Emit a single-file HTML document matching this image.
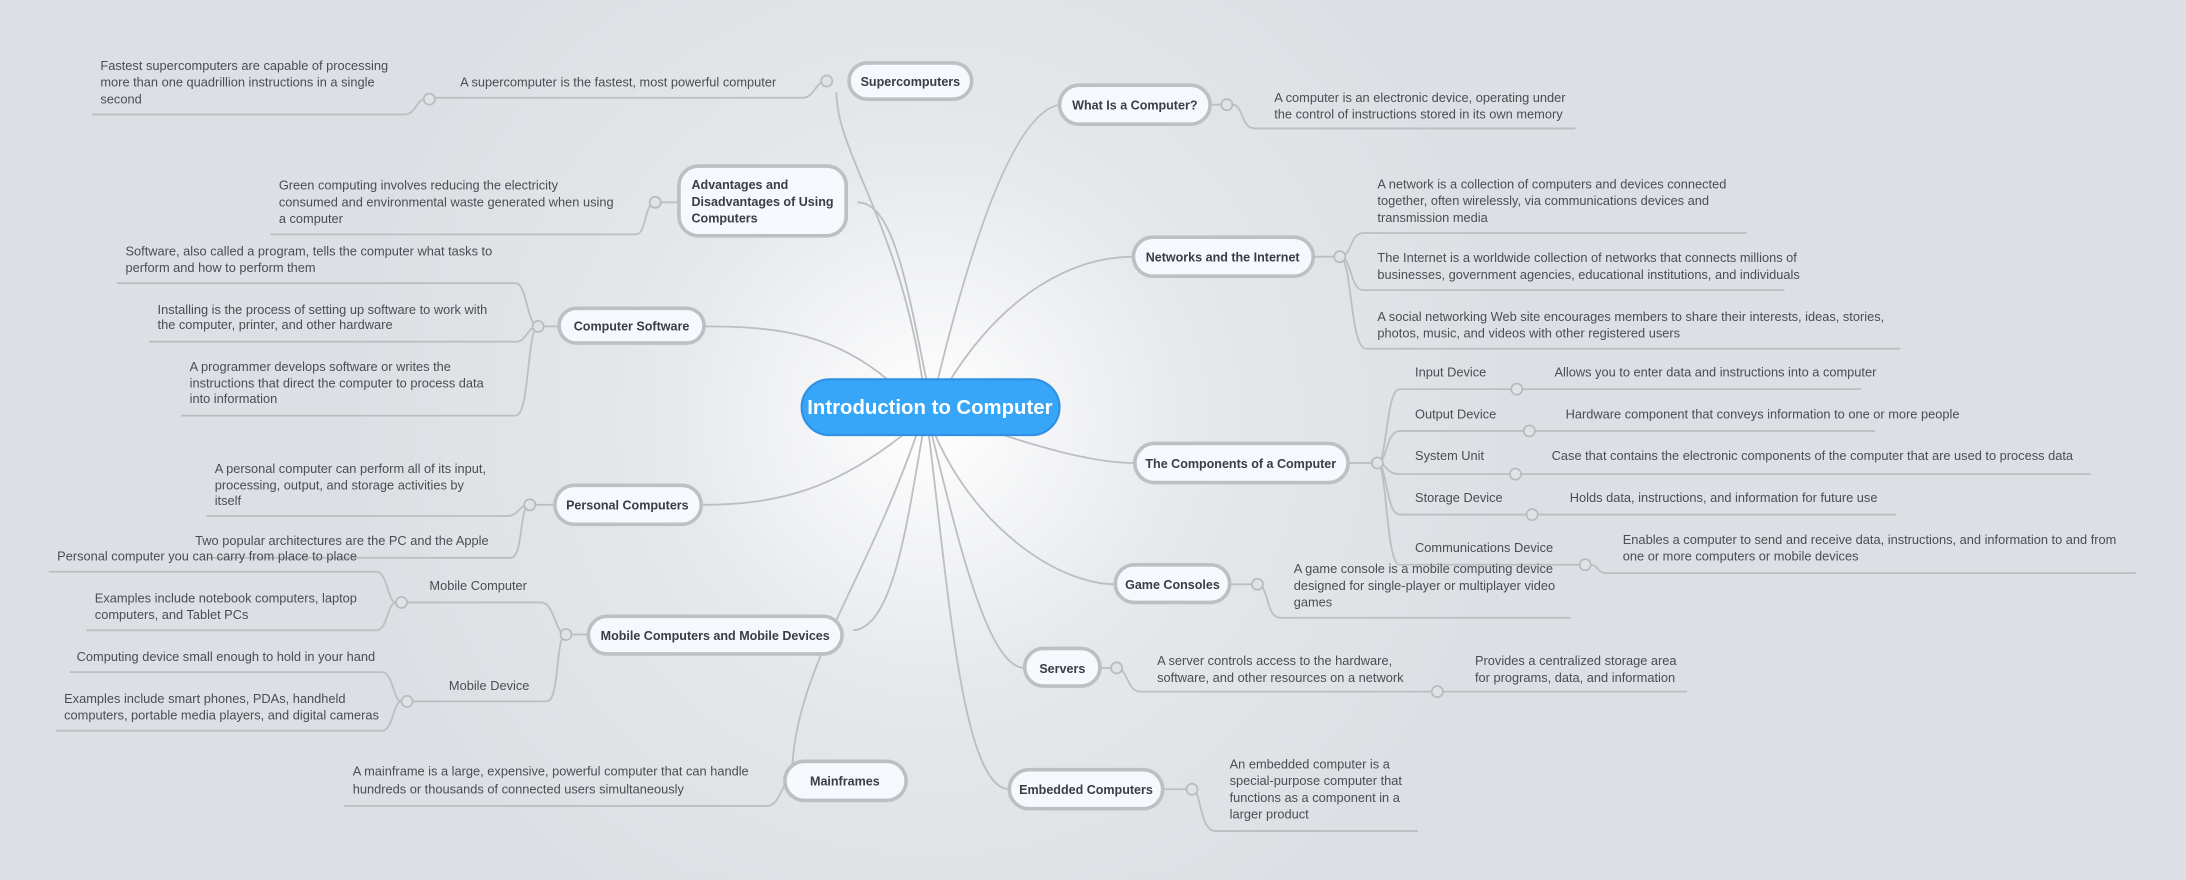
<!DOCTYPE html>
<html><head><meta charset="utf-8"><style>
html,body{margin:0;padding:0;background:#dcdfe3;}
svg{display:block}
text{font-family:"Liberation Sans",sans-serif;}
.d{font-size:9.2px;fill:#4a4d52;}
.n{font-size:9px;font-weight:bold;fill:#3a3d42;}
.l{fill:none;stroke:#bcbec2;stroke-width:1.3;}
.b{fill:#f5f8fd;stroke:#bdbfc2;stroke-width:2.6;}
.c{fill:#dfe2e6;stroke:#b8babe;stroke-width:1.2;}
</style></head><body>
<svg width="2186" height="880" viewBox="0 0 1568 631" xmlns="http://www.w3.org/2000/svg">
<defs><radialGradient id="g" cx="667" cy="300" r="420" gradientUnits="userSpaceOnUse">
<stop offset="0" stop-color="#ffffff"/><stop offset="0.45" stop-color="#e6e8eb"/><stop offset="1" stop-color="#dcdfe3"/></radialGradient></defs>
<rect width="1568" height="631" fill="url(#g)"/>

<g class="l">
<path d="M662 275 C645 160 600 110 600 66"/>
<path d="M665 275 C650 200 640 145 615 145"/>
<path d="M640 275 C600 240 560 234 505 234"/>
<path d="M650 310 C600 350 560 362 503 362"/>
<path d="M662 310 C650 380 640 450 612 452"/>
<path d="M658 310 C620 420 570 480 568 555"/>
<path d="M672 275 C700 160 730 80 760 75"/>
<path d="M680 275 C720 210 770 184 813 184"/>
<path d="M720 312 C760 325 790 332 814 332"/>
<path d="M670 310 C700 380 760 419 800 419"/>
<path d="M668 310 C690 400 710 479 735 479"/>
<path d="M666 310 C680 420 690 566 724 566"/>
</g>

<rect x="575" y="272" width="185" height="40" rx="20" fill="#37a5f8" stroke="#2f90e3" stroke-width="1.5"/>
<text x="667" y="297" text-anchor="middle" font-size="14.6" font-weight="bold" fill="#fff">Introduction to Computer</text>

<g class="l">
<path d="M597 58 L593 58 C585 58 584 70 576 70 L308 70"/>
<path d="M304 71 C298 73 298 82 290 82 L66 82"/>
<path d="M487 145 L470 145 C462 145 464 168 456 168 L194 168"/>
<path d="M401 234 L386 234 C378 234 378 203 370 203 L84 203"/>
<path d="M386 234 C378 234 378 245 370 245 L107 245"/>
<path d="M386 234 C378 234 380 298 370 298 L130 298"/>
<path d="M398 362 L380 362 C372 362 372 370 364 370 L148 370"/>
<path d="M380 362 C372 362 376 400 366 400 L148 400"/>
<path d="M422 455 L406 455 C398 455 398 432 388 432 L290 432"/>
<path d="M406 455 C398 455 402 503 392 503 L296 503"/>
<path d="M284 432 C278 432 278 410 270 410 L35 410"/>
<path d="M284 432 C278 432 278 452 270 452 L62 452"/>
<path d="M288 503 C282 503 282 482 274 482 L50 482"/>
<path d="M288 503 C282 503 282 524 274 524 L40 524"/>
<path d="M563 560 L568 560 C560 560 560 578 550 578 L247 578"/>
<path d="M868 75 L884 75 C892 75 890 92 900 92 L1130 92"/>
<path d="M942 184 L961 184 C970 184 968 167 978 167 L1253 167"/>
<path d="M961 184 C970 184 968 208 978 208 L1280 208"/>
<path d="M961 184 C970 184 968 250 980 250 L1363 250"/>
<path d="M967 332 L988 332 C995 332 994 279 1004 279 L1335 279"/>
<path d="M988 332 C995 332 994 309 1004 309 L1345 309"/>
<path d="M988 332 C995 332 994 340 1004 340 L1500 340"/>
<path d="M988 332 C995 332 994 369 1004 369 L1360 369"/>
<path d="M988 332 C995 332 994 405 1004 405 L1133 405"/>
<path d="M1141 405 C1146 405 1146 411 1152 411 L1532 411"/>
<path d="M882 419 L902 419 C910 419 908 443 918 443 L1127 443"/>
<path d="M789 479 L801 479 C809 479 808 496 818 496 L1210 496"/>
<path d="M834 566 L855 566 C862 566 860 596 872 596 L1017 596"/>
</g>

<g class="c">
<circle cx="593" cy="58" r="4"/><circle cx="308" cy="71" r="4"/>
<circle cx="470" cy="145" r="4"/><circle cx="386" cy="234" r="4"/>
<circle cx="380" cy="362" r="4"/><circle cx="406" cy="455" r="4"/>
<circle cx="288" cy="432" r="4"/><circle cx="292" cy="503" r="4"/>
<circle cx="568" cy="560" r="4"/>
<circle cx="880" cy="75" r="4"/><circle cx="961" cy="184" r="4"/>
<circle cx="988" cy="332" r="4"/>
<circle cx="1088" cy="279" r="4"/><circle cx="1097" cy="309" r="4"/>
<circle cx="1087" cy="340" r="4"/><circle cx="1099" cy="369" r="4"/>
<circle cx="1137" cy="405" r="4"/>
<circle cx="902" cy="419" r="4"/><circle cx="801" cy="479" r="4"/>
<circle cx="1031" cy="496" r="4"/><circle cx="855" cy="566" r="4"/>
</g>

<rect class="b" x="609" y="45" width="88" height="26" rx="13"/>
<text class="n" x="653" y="61.5" text-anchor="middle">Supercomputers</text>
<rect class="b" x="760" y="61" width="108" height="28" rx="14"/>
<text class="n" x="814" y="78.5" text-anchor="middle">What Is a Computer?</text>
<rect class="b" x="487" y="119" width="120" height="50" rx="14"/>
<text class="n" x="496" y="135.5">Advantages and</text>
<text class="n" x="496" y="147.5">Disadvantages  of Using</text>
<text class="n" x="496" y="159.5">Computers</text>
<rect class="b" x="401" y="221" width="104" height="25" rx="12.5"/>
<text class="n" x="453" y="237" text-anchor="middle">Computer Software</text>
<rect class="b" x="813" y="170" width="129" height="28" rx="14"/>
<text class="n" x="877" y="187.5" text-anchor="middle">Networks and the Internet</text>
<rect class="b" x="814" y="318" width="153" height="28" rx="14"/>
<text class="n" x="890" y="335.5" text-anchor="middle">The Components of a Computer</text>
<rect class="b" x="398" y="348" width="105" height="28" rx="14"/>
<text class="n" x="450" y="365.5" text-anchor="middle">Personal Computers</text>
<rect class="b" x="800" y="405" width="82" height="27" rx="13.5"/>
<text class="n" x="841" y="422.5" text-anchor="middle">Game Consoles</text>
<rect class="b" x="422" y="442" width="182" height="27" rx="13.5"/>
<text class="n" x="513" y="459" text-anchor="middle">Mobile Computers and Mobile Devices</text>
<rect class="b" x="735" y="465" width="54" height="27" rx="13.5"/>
<text class="n" x="762" y="482.5" text-anchor="middle">Servers</text>
<rect class="b" x="563" y="546" width="87" height="28" rx="14"/>
<text class="n" x="606" y="563.5" text-anchor="middle">Mainframes</text>
<rect class="b" x="724" y="552" width="110" height="28" rx="14"/>
<text class="n" x="779" y="569.5" text-anchor="middle">Embedded Computers</text>

<g class="d">
<text x="330" y="62">A supercomputer is the fastest, most powerful computer</text>
<text x="72" y="50">Fastest supercomputers are capable of processing</text>
<text x="72" y="62">more than one quadrillion instructions in a single</text>
<text x="72" y="74">second</text>
<text x="200" y="136">Green computing involves reducing the electricity</text>
<text x="200" y="148">consumed and environmental waste generated when using</text>
<text x="200" y="160">a computer</text>
<text x="90" y="183">Software, also called a program, tells the computer what tasks to</text>
<text x="90" y="195">perform and how to perform them</text>
<text x="113" y="225">Installing is the process of setting up software to work with</text>
<text x="113" y="236">the computer, printer, and other hardware</text>
<text x="136" y="266">A programmer develops software or writes the</text>
<text x="136" y="278">instructions that direct the computer to process data</text>
<text x="136" y="289">into information</text>
<text x="154" y="339">A personal computer can perform all of its input,</text>
<text x="154" y="351">processing, output, and storage activities by</text>
<text x="154" y="362">itself</text>
<text x="140" y="391">Two popular architectures are the PC and the Apple</text>
<text x="41" y="402">Personal computer you can carry from place to place</text>
<text x="308" y="423">Mobile Computer</text>
<text x="68" y="432">Examples include notebook computers, laptop</text>
<text x="68" y="444">computers, and Tablet PCs</text>
<text x="55" y="474">Computing device small enough to hold in your hand</text>
<text x="322" y="495">Mobile Device</text>
<text x="46" y="504">Examples include smart phones, PDAs, handheld</text>
<text x="46" y="516">computers, portable media players, and digital cameras</text>
<text x="253" y="556">A mainframe is a large, expensive, powerful computer that can handle</text>
<text x="253" y="569">hundreds or thousands of connected users simultaneously</text>
<text x="914" y="73">A computer is an electronic device, operating under</text>
<text x="914" y="85">the control of instructions stored in its own memory</text>
<text x="988" y="135">A network is a collection of computers and devices connected</text>
<text x="988" y="147">together, often wirelessly, via communications devices and</text>
<text x="988" y="159">transmission media</text>
<text x="988" y="188">The Internet is a worldwide collection of networks that connects millions of</text>
<text x="988" y="200">businesses, government agencies, educational institutions, and individuals</text>
<text x="988" y="230">A social networking Web site encourages members to share their interests, ideas, stories,</text>
<text x="988" y="242">photos, music, and videos with other registered users</text>
<text x="1015" y="270">Input Device</text>
<text x="1115" y="270">Allows you to enter data and instructions into a computer</text>
<text x="1015" y="300">Output Device</text>
<text x="1123" y="300">Hardware component that conveys information to one or more people</text>
<text x="1015" y="330">System Unit</text>
<text x="1113" y="330">Case that contains the electronic components of the computer that are used to process data</text>
<text x="1015" y="360">Storage Device</text>
<text x="1126" y="360">Holds data, instructions, and information for future use</text>
<text x="1015" y="396">Communications Device</text>
<text x="1164" y="390">Enables a computer to send and receive data, instructions, and information to and from</text>
<text x="1164" y="402">one or more computers or mobile devices</text>
<text x="928" y="411">A game console is a mobile computing device</text>
<text x="928" y="423">designed for single-player or multiplayer video</text>
<text x="928" y="435">games</text>
<text x="830" y="477">A server controls access to the hardware,</text>
<text x="830" y="489">software, and other resources on a network</text>
<text x="1058" y="477">Provides a centralized storage area</text>
<text x="1058" y="489">for programs, data, and information</text>
<text x="882" y="551">An embedded computer is a</text>
<text x="882" y="563">special-purpose computer that</text>
<text x="882" y="575">functions as a component in a</text>
<text x="882" y="587">larger product</text>
</g>
</svg>
</body></html>
